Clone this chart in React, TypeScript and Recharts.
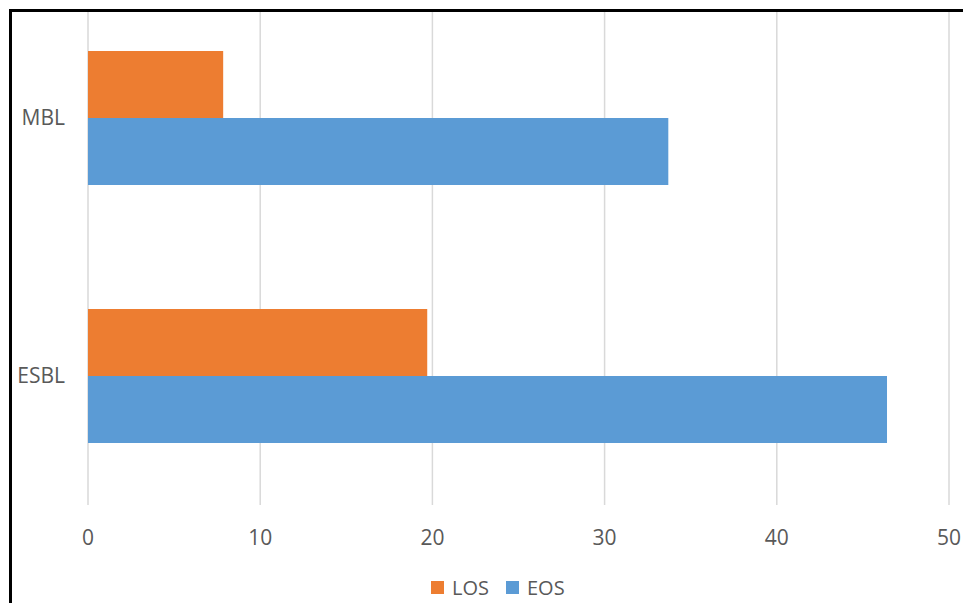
import {
  Bar,
  BarChart,
  CartesianGrid,
  Legend,
  XAxis,
  YAxis,
} from "recharts";

const categories = ["MBL", "ESBL"];
const losValues = [7.85, 19.7];
const eosValues = [33.7, 46.4];
const xTicks = [0, 10, 20, 30, 40, 50];

const series = [
  { key: "LOS", values: losValues, color: "#ED7D31" },
  { key: "EOS", values: eosValues, color: "#5B9BD5" },
];

const data = categories.map((name, i) => {
  const row: Record<string, string | number> = { name };
  series.forEach((s) => {
    row[s.key] = s.values[i];
  });
  return row;
});

const FONT = "'Open Sans', 'DejaVu Sans', sans-serif";
const TEXT = "#595959";

// legend sits a little right of the chart centre, under the plot
function LegendRow() {
  return (
    <div
      style={{
        display: "flex",
        alignItems: "center",
        paddingTop: 19,
        paddingLeft: 431,
        fontFamily: FONT,
        fontSize: 20,
        color: TEXT,
      }}
    >
      {series.map((s, i) => (
        <span
          key={s.key}
          style={{
            display: "inline-flex",
            alignItems: "center",
            marginLeft: i === 0 ? 0 : 17,
          }}
        >
          <span
            style={{
              width: 13,
              height: 13,
              background: s.color,
              display: "inline-block",
              marginRight: 8,
            }}
          />
          {s.key}
        </span>
      ))}
    </div>
  );
}

export default function App() {
  return (
    <div
      style={{
        position: "fixed",
        left: 0,
        top: 0,
        width: 963,
        height: 603,
        background: "#fff",
        overflow: "hidden",
      }}
    >
      <div
        style={{
          position: "absolute",
          left: 9,
          top: 9,
          width: 1000,
          height: 700,
          borderLeft: "3px solid #000",
          borderTop: "3px solid #000",
          overflow: "hidden",
        }}
      >
        <div style={{ position: "absolute", left: -12, top: -23 }}>
          <BarChart
            width={963}
            height={614}
            data={data}
            layout="vertical"
            margin={{ top: 0, right: 14, bottom: 0, left: 0 }}
            barCategoryGap="24%"
            barGap={0}
          >
            <CartesianGrid horizontal={false} stroke="#d9d9d9" strokeWidth={1.5} />
            <XAxis
              type="number"
              domain={[0, 50]}
              ticks={xTicks}
              axisLine={false}
              tickLine={false}
              tickMargin={19}
              height={50}
              tick={{ fill: TEXT, fontSize: 21, fontFamily: FONT }}
            />
            <YAxis
              type="category"
              dataKey="name"
              width={88}
              axisLine={false}
              tickLine={false}
              tickMargin={17}
              tick={{ fill: TEXT, fontSize: 21, fontFamily: FONT }}
            />
            <Legend verticalAlign="bottom" height={48} content={() => <LegendRow />} />
            {series.map((s) => (
              <Bar
                key={s.key}
                dataKey={s.key}
                fill={s.color}
                isAnimationActive={false}
              />
            ))}
          </BarChart>
        </div>
      </div>
    </div>
  );
}
